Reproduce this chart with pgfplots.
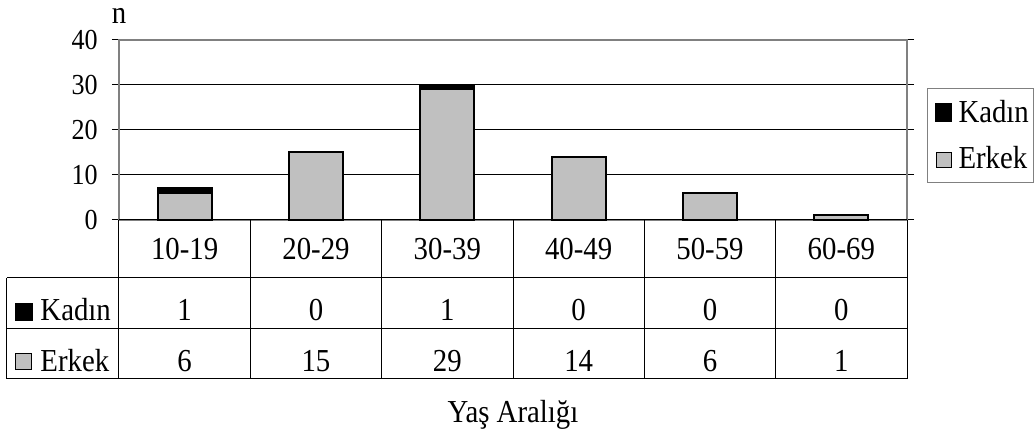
\documentclass[border=0pt]{standalone}
\usepackage{fontspec}
\setmainfont{Liberation Serif}[FakeStretch=0.9]
\usepackage{pgfplots}
\usepackage{pgfplotstable}
\pgfplotsset{compat=1.18}

\definecolor{erkek}{HTML}{C0C0C0}
\definecolor{frame}{HTML}{808080}

\newcommand\bigfont{\fontsize{32}{36}\selectfont}

% age groups: position, label, men, women
\pgfplotstableread{
x grp erkek kadin
0 10-19 6 1
1 20-29 15 0
2 30-39 29 1
3 40-49 14 0
4 50-59 6 0
5 60-69 1 0
}\agedata

\begin{document}
\begin{tikzpicture}[x=1pt,y=1pt]
\begin{axis}[
  at={(0,0)}, anchor=south west, scale only axis,
  width=788pt, height=180pt,
  xmin=-0.5, xmax=5.5, ymin=0, ymax=40,
  ybar stacked, bar width=54pt,
  xtick=\empty,
  ytick={0,10,20,30,40},
  ymajorgrids, grid style={black, line width=1pt},
  axis line style={draw=frame, line width=1.5pt},
  tick align=outside, major tick length=7pt,
  ytick style={black, line width=1pt},
  yticklabel style={font=\fontsize{29}{32}\selectfont, anchor=east, inner sep=0pt, xshift=-14pt},
  /pgf/number format/assume math mode=true,
  ylabel={n},
  every axis y label/.style={at={(rel axis cs:0,1)}, anchor=base, inner sep=0pt, yshift=16pt, font=\bigfont},
  xlabel={Yaş Aralığı},
  every axis x label/.style={at={(rel axis cs:0.5,0)}, anchor=base, inner sep=0pt, yshift=-203pt, font=\bigfont},
  clip=false,
]
\addplot[fill=erkek, draw=black, line width=2pt] table[x=x, y=erkek] {\agedata};
\addplot[fill=black, draw=black, line width=2pt] table[x=x, y=kadin] {\agedata};
\end{axis}

% data table under the chart
\begin{axis}[
  at={(0,0)}, anchor=south west, scale only axis,
  width=788pt, height=180pt,
  xmin=-0.5, xmax=5.5, ymin=0, ymax=180,
  hide axis, clip=false,
  nodes near coords, point meta=explicit symbolic,
  nodes near coords style={anchor=base, inner sep=0pt, font=\bigfont},
]
\addplot[draw=none, mark=none] table[x=x, y expr=-40, meta=grp] {\agedata};
\addplot[draw=none, mark=none] table[x=x, y expr=-101, meta=kadin] {\agedata};
\addplot[draw=none, mark=none] table[x=x, y expr=-152, meta=erkek] {\agedata};
\end{axis}

\begin{scope}[line width=1pt]
  % table grid
  \draw (0,0) -- (788,0);
  \draw (-112,-58) -- (788,-58);
  \draw (-112,-109) -- (788,-109);
  \draw (-112,-159) -- (788,-159);
  \draw (-112,-58) -- (-112,-159);
  \foreach \k in {0,...,6} { \draw (\k*131.333,0) -- (\k*131.333,-159); }
  % row keys
  \fill[black] (-104,-101) rectangle (-86,-83);
  \node[anchor=base west, inner sep=0pt, font=\bigfont] at (-79,-101) {Kadın};
  \filldraw[fill=erkek, draw=black] (-103,-150) rectangle (-87,-134);
  \node[anchor=base west, inner sep=0pt, font=\bigfont] at (-79,-152) {Erkek};
  % legend
  \draw[frame] (808,37) rectangle (914,131);
  \fill[black] (816,98) rectangle (833,117);
  \node[anchor=base west, inner sep=0pt, font=\bigfont] at (839,97) {Kadın};
  \filldraw[fill=erkek, draw=black] (817,52) rectangle (832,67);
  \node[anchor=base west, inner sep=0pt, font=\bigfont] at (839,51) {Erkek};
\end{scope}

\pgfresetboundingbox
\path[use as bounding box] (-119,-215) rectangle (915,220);
\end{tikzpicture}
\end{document}
